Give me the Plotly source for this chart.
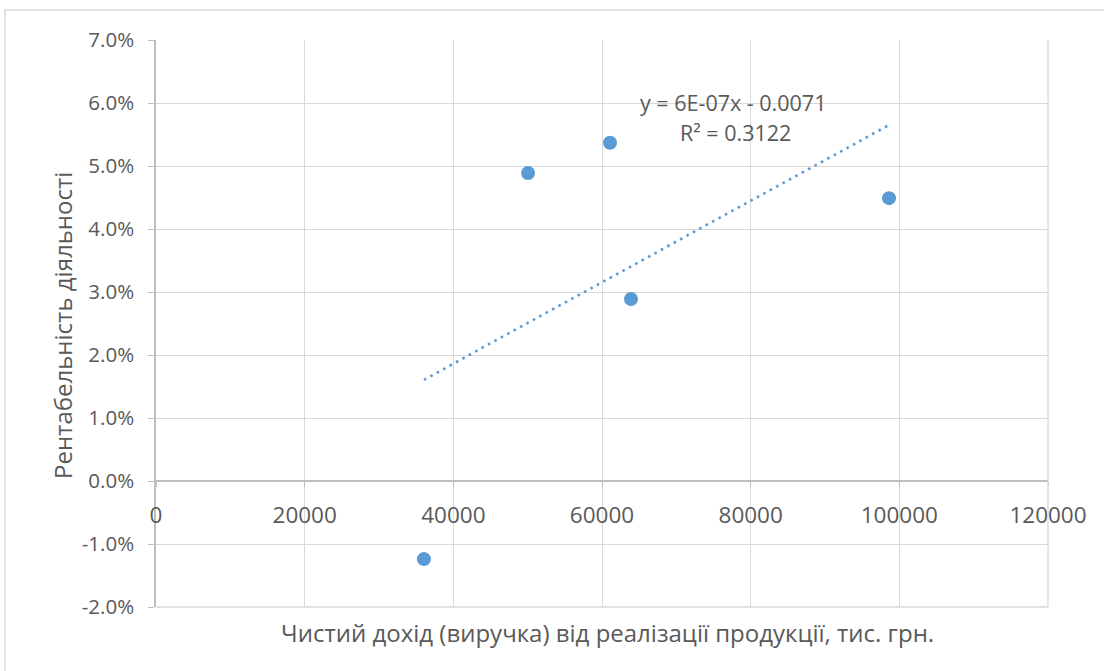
import numpy as np
import plotly.graph_objects as go

# Net revenue (thousand UAH) and operating profitability
revenue = [36050, 50050, 61080, 63900, 98610]
profitability = [-0.0124, 0.0489, 0.0537, 0.0289, 0.0449]

x_ticks = [0, 20000, 40000, 60000, 80000, 100000, 120000]
x_tick_labels = ["0", "20000", "40000", "60000", "80000", "100000", "120000"]
y_ticks = [-0.02, -0.01, 0.0, 0.01, 0.02, 0.03, 0.04, 0.05, 0.06, 0.07]
y_tick_labels = ["-2.0%", "-1.0%", "0.0%", "1.0%", "2.0%", "3.0%", "4.0%", "5.0%", "6.0%", "7.0%"]

equation_text = "y = 6E-07x - 0.0071"
r2_text = "R² = 0.3122"
x_title = "Чистий дохід (виручка) від реалізації продукції, тис. грн."
y_title = "Рентабельність діяльності"

# Linear trendline fitted to the points
slope, intercept = np.polyfit(revenue, profitability, 1)
trend_x = np.array([min(revenue), max(revenue)])
trend_y = slope * trend_x + intercept

FONT = "Open Sans"
TXT = "#595959"
BLUE = "#5b9bd5"

W, H = 1104, 671
L, R, T, B = 156, 56, 40, 64
pw, ph = W - L - R, H - T - B
y_lo, y_hi = -0.02, 0.07
zero_pos = (0 - y_lo) / (y_hi - y_lo)


def px_x(px):
    return (px - L) / pw


def px_y(py):
    return 1 - (py - T) / ph


fig = go.Figure()
fig.add_trace(go.Scatter(
    x=trend_x, y=trend_y, mode="lines",
    line=dict(color=BLUE, width=2.6, dash="2.6px,4.7px"),
    hoverinfo="skip", showlegend=False,
))
fig.add_trace(go.Scatter(
    x=revenue, y=profitability, mode="markers",
    marker=dict(color=BLUE, size=14),
    showlegend=False,
))

fig.update_layout(
    width=W, height=H,
    margin=dict(l=L, r=R, t=T, b=B),
    paper_bgcolor="white", plot_bgcolor="white",
    font=dict(family=FONT, color=TXT, size=21),
    xaxis=dict(
        range=[0, 120000], tickvals=x_ticks, ticktext=x_tick_labels,
        showgrid=True, gridcolor="#d9d9d9", gridwidth=1.3,
        showline=True, linecolor="#bfbfbf", linewidth=1.5,
        ticks="outside", ticklen=5, tickcolor="#bfbfbf",
        anchor="free", position=zero_pos,
        ticklabelstandoff=9, zeroline=False,
        tickfont=dict(size=22.5, color=TXT, family=FONT),
    ),
    yaxis=dict(
        range=[y_lo, y_hi], tickvals=y_ticks, ticktext=y_tick_labels,
        showgrid=True, gridcolor="#d9d9d9", gridwidth=1.3,
        showline=True, linecolor="#bfbfbf", linewidth=1.5,
        ticks="outside", ticklen=6, tickcolor="#bfbfbf",
        ticklabelstandoff=10, zeroline=False,
        tickfont=dict(size=20.5, color=TXT, family=FONT),
    ),
)

# Plot-area frame lines at the right and bottom edges
fig.add_shape(type="line", xref="paper", yref="paper", x0=1, x1=1, y0=0, y1=1,
              line=dict(color="#d9d9d9", width=1.3))
fig.add_shape(type="line", xref="paper", yref="paper", x0=0, x1=1, y0=0, y1=0,
              line=dict(color="#d9d9d9", width=1.3))

# Outer chart border
fig.add_shape(type="rect", xref="paper", yref="paper",
              x0=px_x(5), x1=px_x(W + 10),
              y0=px_y(H + 20), y1=px_y(10),
              line=dict(color="#d9d9d9", width=1.5), layer="below")

common = dict(xref="paper", yref="paper", showarrow=False,
              xanchor="center", yanchor="middle")

fig.add_annotation(text=equation_text, x=px_x(733), y=px_y(102),
                   font=dict(size=21.5, color=TXT, family=FONT), **common)
fig.add_annotation(text=r2_text, x=px_x(735), y=px_y(132),
                   font=dict(size=21.5, color=TXT, family=FONT), **common)

fig.add_annotation(text=x_title, x=px_x(607), y=px_y(632),
                   font=dict(size=24, color=TXT, family=FONT), **common)
fig.add_annotation(text=y_title, x=px_x(62), y=px_y(326), textangle=-90,
                   font=dict(size=24, color=TXT, family=FONT), **common)

fig.write_html("out.html")
